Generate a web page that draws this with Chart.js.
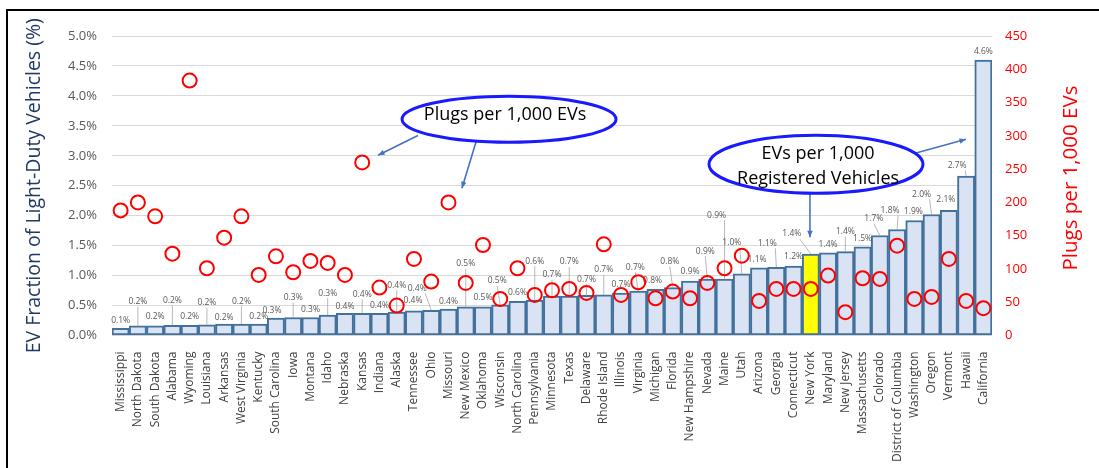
<!DOCTYPE html>
<html><head><meta charset="utf-8">
<script src="https://cdn.jsdelivr.net/npm/chart.js@4.4.1/dist/chart.umd.min.js"></script>
<style>html,body{margin:0;padding:0;background:#fff;}#wrap{width:1099px;height:468px;position:relative;}</style>
</head><body><div id="wrap"><canvas id="c" width="1099" height="468"></canvas></div>
<script>
const categories = ['Mississippi','North Dakota','South Dakota','Alabama','Wyoming','Louisiana','Arkansas','West Virginia','Kentucky','South Carolina','Iowa','Montana','Idaho','Nebraska','Kansas','Indiana','Alaska','Tennessee','Ohio','Missouri','New Mexico','Oklahoma','Wisconsin','North Carolina','Pennsylvania','Minnesota','Texas','Delaware','Rhode Island','Illinois','Virginia','Michigan','Florida','New Hampshire','Nevada','Maine','Utah','Arizona','Georgia','Connecticut','New York','Maryland','New Jersey','Massachusetts','Colorado','District of Columbia','Washington','Oregon','Vermont','Hawaii','California'];
// EV fraction of light-duty vehicles (%)
const evShare = [0.12,0.16,0.16,0.17,0.17,0.18,0.19,0.19,0.19,0.29,0.30,0.30,0.34,0.37,0.37,0.37,0.39,0.41,0.42,0.44,0.48,0.48,0.51,0.57,0.59,0.66,0.66,0.67,0.68,0.71,0.74,0.77,0.80,0.91,0.94,0.94,1.03,1.13,1.14,1.16,1.36,1.38,1.40,1.48,1.67,1.77,1.92,2.02,2.09,2.66,4.60];
// Plugs per 1,000 EVs
const plugsPer1000 = [188,200,179,123,383,101,147,179,91,119,95,112,109,91,260,72,45,115,81,200,79,136,55,101,61,68,70,64,137,61,80,56,66,56,79,101,120,52,70,70,70,90,35,86,85,135,55,58,115,52,41];
const highlightState = 'New York';
const leftAxisTitle = 'EV Fraction of Light-Duty Vehicles (%)';
const rightAxisTitle = 'Plugs per 1,000 EVs';
const callout1 = ['Plugs per 1,000 EVs'];
const callout2 = ['EVs per 1,000', 'Registered Vehicles'];

// label placement nudges (pixels, relative to bar top)
const labelDx = [0,0,0,0,0,0,0,0,0,-4,0,0,0,0,0,0,0,-1,-14,0,0,0,-3,0,0,0,0,0,0,0,-3,-3,-3,0,-2,-8,-10,-2,-9,0,-19,0,0,0,-6,-7,-1,-10,-3,-9,0];
const labelDy = [-8,-24,-9,-25,-9,-22,-7,-23,-8,-8,-20,-8,-22,-7,-19,-8,-27,-10,-22,-8,-43,-9,-24,-9,-39,-21,-34,-16,-25,-8,-24,-9,-26,-9,-28,-64,-31,-8,-24,-9,-20,-8,-20,-8,-17,-19,-9,-20,-11,-11,-8];

const FONT = '"Open Sans", "Noto Sans", sans-serif';

const barLabels = {
  id: 'barLabels',
  afterDatasetDraw(chart, args) {
    if (args.index !== 0) return;
    const meta = chart.getDatasetMeta(0);
    const ctx = chart.ctx;
    ctx.save();
    ctx.font = '8.5px ' + FONT;
    ctx.textAlign = 'center';
    ctx.textBaseline = 'middle';
    meta.data.forEach((bar, i) => {
      const lx = bar.x + labelDx[i], ly = bar.y + labelDy[i];
      if (labelDy[i] < -13 || Math.abs(labelDx[i]) > 6) {
        ctx.strokeStyle = '#a6a6a6';
        ctx.lineWidth = 0.8;
        ctx.beginPath();
        const sx = Math.abs(labelDx[i]) > 6 ? lx + 8 : lx;
        ctx.moveTo(sx, ly + 5);
        ctx.lineTo(bar.x, bar.y);
        ctx.stroke();
      }
      ctx.fillStyle = '#595959';
      ctx.fillText(evShare[i].toFixed(1) + '%', lx, ly);
    });
    ctx.restore();
  }
};

function arrow(ctx, x1, y1, x2, y2) {
  ctx.beginPath(); ctx.moveTo(x1, y1); ctx.lineTo(x2, y2); ctx.stroke();
  const a = Math.atan2(y2 - y1, x2 - x1), h = 7;
  ctx.beginPath();
  ctx.moveTo(x2, y2);
  ctx.lineTo(x2 - h * Math.cos(a - 0.4), y2 - h * Math.sin(a - 0.4));
  ctx.lineTo(x2 - h * Math.cos(a + 0.4), y2 - h * Math.sin(a + 0.4));
  ctx.closePath(); ctx.fill();
}

const annotations = {
  id: 'annotations',
  afterDraw(chart) {
    const ctx = chart.ctx, xs = chart.scales.x, ys = chart.scales.y;
    const P = (i, v) => [xs.getPixelForValue(i), ys.getPixelForValue(v)];
    ctx.save();
    // arrows
    ctx.strokeStyle = '#4472c4'; ctx.fillStyle = '#4472c4'; ctx.lineWidth = 1.6;
    let a = P(17.23, 3.34), b = P(14.92, 3.01); arrow(ctx, a[0], a[1], b[0], b[1]);
    a = P(20.71, 3.34); b = P(19.78, 2.46); arrow(ctx, a[0], a[1], b[0], b[1]);
    a = P(44.99, 2.96); b = P(48.99, 3.275); arrow(ctx, a[0], a[1], b[0], b[1]);
    a = P(39.95, 2.39); b = P(39.95, 1.64); arrow(ctx, a[0], a[1], b[0], b[1]);
    // ellipses
    const ell = (c, rx, ry) => {
      ctx.beginPath(); ctx.ellipse(c[0], c[1], rx, ry, 0, 0, Math.PI * 2);
      ctx.fillStyle = '#ffffff'; ctx.fill();
      ctx.strokeStyle = '#1a1aff'; ctx.lineWidth = 3; ctx.stroke();
    };
    const c1 = P(22.51, 3.61), c2 = P(40.3, 2.86);
    ell(c1, 107, 23);
    ell(c2, 107, 29);
    ctx.fillStyle = '#000'; ctx.font = '18px ' + FONT; ctx.textAlign = 'center'; ctx.textBaseline = 'middle';
    let t = P(22.28, 3.68); ctx.fillText(callout1[0], t[0], t[1]);
    t = P(40.42, 3.04); ctx.fillText(callout2[0], t[0], t[1]);
    t = P(40.42, 2.61); ctx.fillText(callout2[1], t[0], t[1]);
    // right axis title (reads bottom-to-top)
    ctx.save();
    ctx.translate(1071, 178); ctx.rotate(-Math.PI / 2);
    ctx.fillStyle = '#ff0000'; ctx.font = '20.5px ' + FONT;
    ctx.fillText(rightAxisTitle, 0, 0);
    ctx.restore();
    // frame
    ctx.strokeStyle = '#000'; ctx.lineWidth = 2;
    ctx.strokeRect(7, 10, 1200, 600);
    ctx.restore();
  }
};

new Chart(document.getElementById('c'), {
  data: {
    labels: categories,
    datasets: [
      {
        type: 'bar', label: 'EVs per 1,000 Registered Vehicles', data: evShare, yAxisID: 'y', order: 1,
        backgroundColor: categories.map(c => c === highlightState ? '#ffff00' : '#dae3f3'),
        borderColor: '#41719c', borderWidth: 2, borderSkipped: false, barPercentage: 1, categoryPercentage: 1
      },
      {
        type: 'line', label: 'Plugs per 1,000 EVs', data: plugsPer1000, yAxisID: 'y1', order: 0,
        showLine: false, pointRadius: 7, pointHoverRadius: 7, pointBorderWidth: 2,
        pointBorderColor: '#ff0000', pointBackgroundColor: 'rgba(0,0,0,0)'
      }
    ]
  },
  options: {
    responsive: false, animation: false, devicePixelRatio: 1,
    layout: { padding: { top: 36, left: 0, right: 0, bottom: 0 } },
    plugins: { legend: { display: false }, tooltip: { enabled: false } },
    scales: {
      x: {
        grid: { display: false }, border: { display: false },
        ticks: { autoSkip: false, minRotation: 90, maxRotation: 90, padding: 8, color: '#404040', font: { family: FONT, size: 12 } },
        afterFit(s) { s.height = 132.5; }
      },
      y: {
        position: 'left', min: 0, max: 5,
        ticks: { stepSize: 0.5, callback: v => v.toFixed(1) + '%', color: '#595959', font: { family: FONT, size: 13 }, padding: 15 },
        grid: { color: '#d9d9d9', drawTicks: false, lineWidth: 1 }, border: { display: false },
        title: { display: true, text: leftAxisTitle, color: '#203864', font: { family: FONT, size: 19.5 }, padding: { top: 23, bottom: 0 } },
        afterFit(s) { s.width = 112; }
      },
      y1: {
        position: 'right', min: 0, max: 450,
        ticks: { stepSize: 50, color: '#ff0000', font: { family: FONT, size: 13 }, padding: 13 },
        grid: { drawOnChartArea: false, drawTicks: false }, border: { display: false },
        afterFit(s) { s.width = 107; }
      }
    }
  },
  plugins: [barLabels, annotations]
});
</script></body></html>
